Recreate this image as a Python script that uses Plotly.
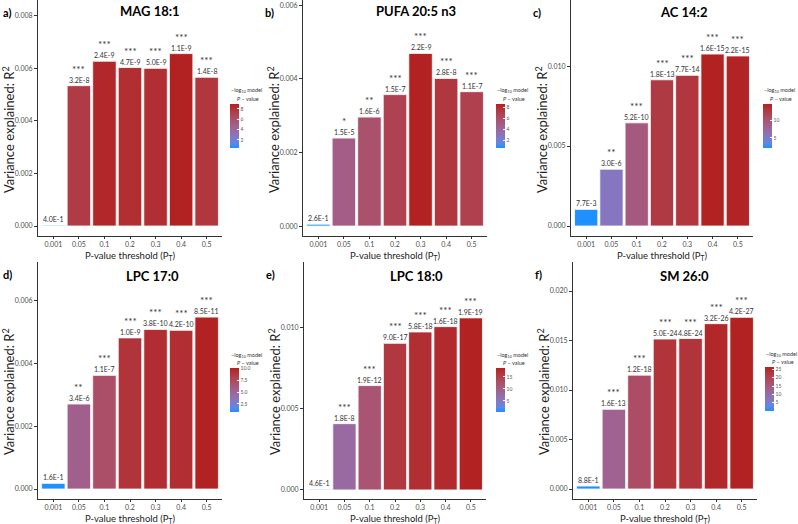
import math
import plotly.graph_objects as go

W, H = 798, 524

thresholds = ["0.001", "0.05", "0.1", "0.2", "0.3", "0.4", "0.5"]

titles = ["MAG 18:1", "PUFA 20:5 n3", "AC 14:2", "LPC 17:0", "LPC 18:0", "SM 26:0"]
panel_tags = ["a)", "b)", "c)", "d)", "e)", "f)"]

r2_mag = [0.00003, 0.00534, 0.00627, 0.00603, 0.00600, 0.00656, 0.00566]
r2_pufa = [0.00005, 0.00239, 0.00296, 0.00357, 0.00469, 0.00401, 0.00365]
r2_ac = [0.00104, 0.00355, 0.00645, 0.00914, 0.00942, 0.01075, 0.01063]
r2_lpc17 = [0.00018, 0.00270, 0.00361, 0.00480, 0.00507, 0.00504, 0.00546]
r2_lpc18 = [0.00004, 0.00409, 0.00644, 0.00905, 0.00975, 0.01008, 0.01062]
r2_sm = [0.00030, 0.00805, 0.01150, 0.01515, 0.01520, 0.01670, 0.01734]

p_mag = ["4.0E-1", "3.2E-8", "2.4E-9", "4.7E-9", "5.0E-9", "1.1E-9", "1.4E-8"]
p_pufa = ["2.6E-1", "1.5E-5", "1.6E-6", "1.5E-7", "2.2E-9", "2.8E-8", "1.1E-7"]
p_ac = ["7.7E-3", "3.0E-6", "5.2E-10", "1.8E-13", "7.7E-14", "1.6E-15", "2.2E-15"]
p_lpc17 = ["1.6E-1", "3.4E-6", "1.1E-7", "1.0E-9", "3.8E-10", "4.2E-10", "8.5E-11"]
p_lpc18 = ["4.6E-1", "1.8E-8", "1.9E-12", "9.0E-17", "5.8E-18", "1.6E-18", "1.9E-19"]
p_sm = ["8.8E-1", "1.6E-13", "1.2E-18", "5.0E-24", "4.8E-24", "3.2E-26", "4.2E-27"]

stars_mag = ["", "***", "***", "***", "***", "***", "***"]
stars_pufa = ["", "*", "**", "***", "***", "***", "***"]
stars_ac = ["", "**", "***", "***", "***", "***", "***"]
stars_lpc17 = ["", "**", "***", "***", "***", "***", "***"]
stars_lpc18 = ["", "***", "***", "***", "***", "***", "***"]
stars_sm = ["", "***", "***", "***", "***", "***", "***"]

y_ranges = [[-0.00038, 0.0086], [-0.00027, 0.00614], [-0.000625, 0.01413],
            [-0.000317, 0.00721], [-0.00056, 0.01407], [-0.00101, 0.02293]]
y_dticks = [0.002, 0.002, 0.005, 0.002, 0.005, 0.005]
y_tickmax = [0.008, 0.006, 0.010, 0.006, 0.010, 0.020]
cb_ticks = [[2, 4, 6, 8], [2, 4, 6, 8], [5, 10], [2.5, 5.0, 7.5, 10.0], [5, 10, 15], [5, 10, 15, 20, 25]]
cb_ticktext = [["2", "4", "6", "8"], ["2", "4", "6", "8"], ["5", "10"],
               ["2.5", "5.0", "7.5", "10.0"], ["5", "10", "15"], ["5", "10", "15", "20", "25"]]

r2_all = [r2_mag, r2_pufa, r2_ac, r2_lpc17, r2_lpc18, r2_sm]
p_all = [p_mag, p_pufa, p_ac, p_lpc17, p_lpc18, p_sm]
stars_all = [stars_mag, stars_pufa, stars_ac, stars_lpc17, stars_lpc18, stars_sm]

# layout in pixels: (x0, x1, y_top, y_bottom)
boxes = [(38, 222, 0, 236), (303, 487, 0, 236), (571, 753, 0, 236),
         (38, 222, 262, 499), (304, 486, 262, 499), (573, 757, 262, 499)]
cbar_x = [230, 496, 763, 230, 496, 765]
cbar_y = [104, 104, 104, 368, 368, 367]
title_pos = [(150, 11), (416, 11), (683, 12), (152, 276), (416, 276), (684, 276)]


# ggplot-like Lab gradient dodgerblue -> firebrick
def _lin(c):
    c = c / 255.0
    return c / 12.92 if c <= 0.04045 else ((c + 0.055) / 1.055) ** 2.4


def _delin(c):
    c = 12.92 * c if c <= 0.0031308 else 1.055 * c ** (1 / 2.4) - 0.055
    return max(0, min(255, round(c * 255)))


def rgb2lab(rgb):
    r, g, b = [_lin(v) for v in rgb]
    x = (0.4124 * r + 0.3576 * g + 0.1805 * b) / 0.95047
    y = (0.2126 * r + 0.7152 * g + 0.0722 * b)
    z = (0.0193 * r + 0.1192 * g + 0.9505 * b) / 1.08883
    f = lambda t: t ** (1 / 3) if t > 0.008856 else 7.787 * t + 16 / 116
    fx, fy, fz = f(x), f(y), f(z)
    return (116 * fy - 16, 500 * (fx - fy), 200 * (fy - fz))


def lab2rgb(lab):
    L, a, b = lab
    fy = (L + 16) / 116
    fx = fy + a / 500
    fz = fy - b / 200
    finv = lambda t: t ** 3 if t ** 3 > 0.008856 else (t - 16 / 116) / 7.787
    x, y, z = finv(fx) * 0.95047, finv(fy), finv(fz) * 1.08883
    r = 3.2406 * x - 1.5372 * y - 0.4986 * z
    g = -0.9689 * x + 1.8758 * y + 0.0415 * z
    bb = 0.0557 * x - 0.2040 * y + 1.0570 * z
    return tuple(_delin(max(0, v)) for v in (r, g, bb))


lo = rgb2lab((30, 144, 255))
hi = rgb2lab((178, 34, 34))
colorscale = []
for i in range(11):
    t = i / 10
    lab = tuple(lo[k] + (hi[k] - lo[k]) * t for k in range(3))
    r, g, b = lab2rgb(lab)
    colorscale.append([t, f"rgb({r},{g},{b})"])

FONT = "Lato"
fig = go.Figure()
annotations = []


def px_x(v):
    return v / W


def px_y(v):
    return 1 - v / H


for i in range(6):
    n = i + 1
    xa = "xaxis" if n == 1 else f"xaxis{n}"
    ya = "yaxis" if n == 1 else f"yaxis{n}"
    xr = "x" if n == 1 else f"x{n}"
    yr = "y" if n == 1 else f"y{n}"
    x0, x1, yt, yb = boxes[i]
    neglog = [-math.log10(float(p)) for p in p_all[i]]
    fig.add_trace(go.Bar(
        x=thresholds, y=r2_all[i], xaxis=xr, yaxis=yr, width=0.92,
        marker=dict(color=neglog, colorscale=colorscale, cmin=min(neglog), cmax=max(neglog),
                    line=dict(color="white", width=0.8), showscale=True,
                    colorbar=dict(x=px_x(cbar_x[i]), xanchor="left", y=px_y(cbar_y[i]), yanchor="top",
                                  len=44, lenmode="pixels", thickness=9, xpad=0, ypad=0,
                                  outlinewidth=0, tickvals=cb_ticks[i], ticktext=cb_ticktext[i],
                                  ticks="inside", tickcolor="white", ticklen=2,
                                  tickfont=dict(size=5, color="#555", family=FONT))),
        showlegend=False, hoverinfo="skip"))
    fig.layout[xa] = dict(domain=[px_x(x0), px_x(x1)], anchor=yr, type="category",
                          range=[-0.6, 6.6], showline=True, linecolor="#333", linewidth=1,
                          ticks="outside", ticklen=2, tickcolor="#333", showgrid=False, zeroline=False,
                          tickfont=dict(size=7, color="#4d4d4d", family=FONT))
    tv = []
    v = 0.0
    while v <= y_tickmax[i] + 1e-9:
        tv.append(round(v, 4))
        v += y_dticks[i]
    fig.layout[ya] = dict(domain=[px_y(yb), px_y(yt)], anchor=xr, range=y_ranges[i],
                          showline=True, linecolor="#333", linewidth=1, ticks="outside", ticklen=3,
                          tickcolor="#333", showgrid=False, zeroline=False, tickvals=tv,
                          tickformat=".3f", tickfont=dict(size=7, color="#4d4d4d", family=FONT))
    for j, cat in enumerate(thresholds):
        annotations.append(dict(x=j, y=r2_all[i][j], xref=xr, yref=yr, text=p_all[i][j],
                                showarrow=False, yanchor="bottom", yshift=0,
                                font=dict(size=7, color="#333", family=FONT)))
        if stars_all[i][j]:
            annotations.append(dict(x=j, y=r2_all[i][j], xref=xr, yref=yr, text=stars_all[i][j],
                                    showarrow=False, yanchor="bottom", yshift=9,
                                    font=dict(size=10, color="#333", family=FONT)))
    # colorbar title
    annotations.append(dict(x=px_x(cbar_x[i] - 1), y=px_y(cbar_y[i] - 13), xref="paper", yref="paper",
                            text="−log<sub>10</sub> model", showarrow=False, xanchor="left", yanchor="middle",
                            font=dict(size=5.5, color="#333", family=FONT)))
    annotations.append(dict(x=px_x(cbar_x[i] + 5), y=px_y(cbar_y[i] - 5), xref="paper", yref="paper",
                            text="<i>P</i> − value", showarrow=False, xanchor="left", yanchor="middle",
                            font=dict(size=5.5, color="#333", family=FONT)))
    # title
    tx, ty = title_pos[i]
    annotations.append(dict(x=px_x(tx), y=px_y(ty), xref="paper", yref="paper", text=f"<b>{titles[i]}</b>",
                            showarrow=False, xanchor="center", yanchor="middle",
                            font=dict(size=13, color="black", family=FONT)))
    # panel tag
    annotations.append(dict(x=px_x(1 if i % 3 == 0 else x0 - 40), y=px_y(yt + 12), xref="paper", yref="paper",
                            text=f"<b>{panel_tags[i]}</b>", showarrow=False, xanchor="left", yanchor="middle",
                            font=dict(size=11, color="black", family=FONT)))
    # axis titles
    annotations.append(dict(x=px_x(x0 - 30), y=px_y(yt + 130), xref="paper", yref="paper",
                            text="Variance explained: R<sup>2</sup>", textangle=-90, showarrow=False,
                            xanchor="center", yanchor="middle",
                            font=dict(size=13, color="#222", family=FONT)))
    annotations.append(dict(x=px_x((x0 + x1) / 2), y=px_y(yb + 20), xref="paper", yref="paper",
                            text="P-value threshold (P<sub>T</sub>)", showarrow=False,
                            xanchor="center", yanchor="middle",
                            font=dict(size=9.5, color="#222", family=FONT)))

fig.update_layout(width=W, height=H, margin=dict(l=0, r=0, t=0, b=0),
                  paper_bgcolor="white", plot_bgcolor="white", bargap=0.08,
                  annotations=annotations, font=dict(family=FONT))
fig.write_html("out.html", config={"displayModeBar": False},
               post_script="document.body.style.margin='0';document.body.style.padding='0';"
                           "document.body.style.overflow='hidden';")
